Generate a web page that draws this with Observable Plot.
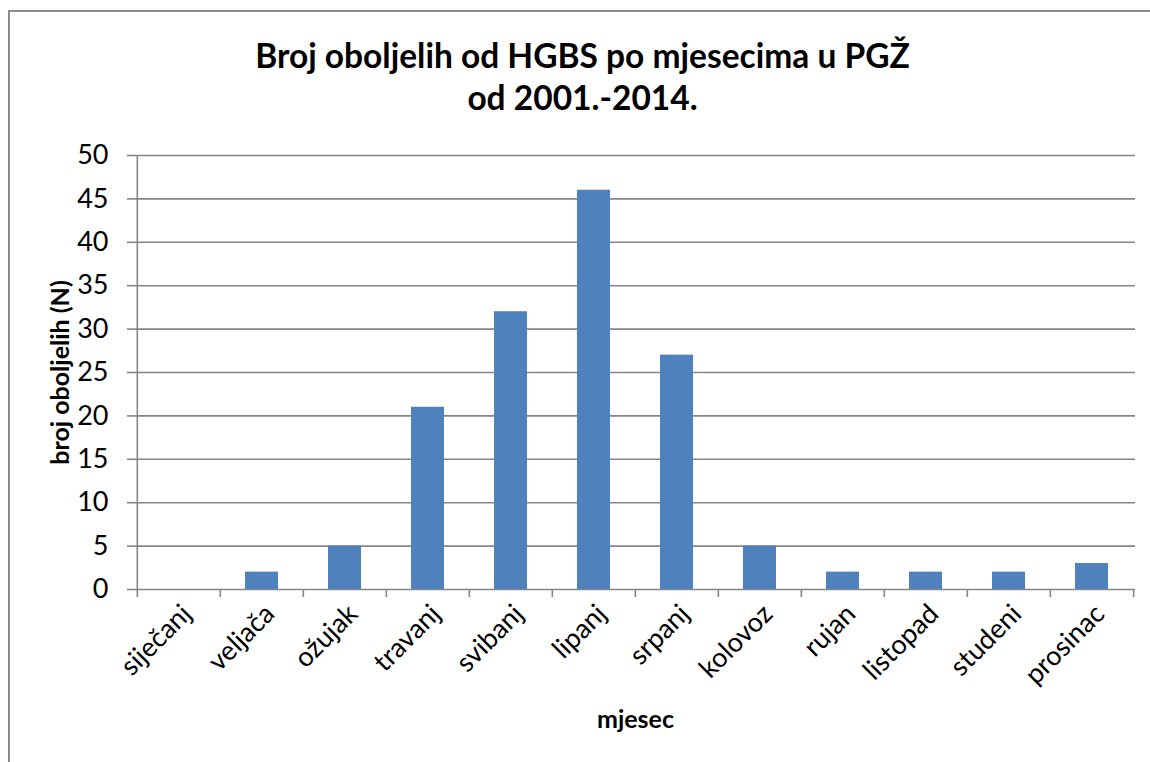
<!DOCTYPE html>
<html>
<head>
<meta charset="utf-8">
<script src="https://cdn.jsdelivr.net/npm/d3@7"></script>
<script src="https://cdn.jsdelivr.net/npm/@observablehq/plot@0.6"></script>
<style>
  html, body { margin: 0; padding: 0; background: #fff; }
  #wrap { position: relative; width: 1150px; height: 762px; overflow: hidden; font-family: Lato, "Open Sans", sans-serif; }
  #border { position: absolute; z-index: 5; left: 8px; top: 10px; width: 1160px; height: 780px; border-left: 2px solid #8c8c8c; border-top: 2px solid #8c8c8c; box-sizing: border-box; pointer-events: none; }
  #title { position: absolute; left: 0; top: 0; width: 1150px; height: 130px; text-align: center; }
  #title div { position: absolute; width: 1165px; left: 0; font-weight: bold; font-size: 33.5px; line-height: 40px; color: #000; white-space: nowrap; text-align: center; }
  #chart { position: absolute; left: 0; top: 130px; }
</style>
</head>
<body>
<div id="wrap">
  <div id="border"></div>
  <div id="title"></div>
  <div id="chart"></div>
</div>
<script>
const titleLines = ["Broj oboljelih od HGBS po mjesecima u PGŽ", "od 2001.-2014."];
const months = ["siječanj", "veljača", "ožujak", "travanj", "svibanj", "lipanj", "srpanj", "kolovoz", "rujan", "listopad", "studeni", "prosinac"];
const counts = [0, 2, 5, 21, 32, 46, 27, 5, 2, 2, 2, 3];
const yTicks = [0, 5, 10, 15, 20, 25, 30, 35, 40, 45, 50];
const xTitle = "mjesec";
const yTitle = "broj oboljelih (N)";

const data = months.map((m, i) => ({month: m, value: counts[i]}));

const titleEl = document.getElementById("title");
titleLines.forEach((t, i) => {
  const d = document.createElement("div");
  d.textContent = t;
  d.style.top = (i === 0 ? 35 : 77) + "px";
  titleEl.appendChild(d);
});

const W = 1150, H = 632, mL = 135, mR = 15, mT = 25, mB = 173;
const step = (W - mL - mR) / months.length;
const grey = "#868686";
const font = "Lato, 'Open Sans', sans-serif";

const chart = Plot.plot({
  width: W, height: H,
  marginLeft: mL, marginRight: mR, marginTop: mT, marginBottom: mB,
  style: {fontFamily: font, fontSize: "27px", color: "#000", background: "transparent"},
  x: {domain: months, paddingInner: 0.6, paddingOuter: 0.3, label: null},
  y: {domain: [0, 50], label: null},
  marks: [
    Plot.ruleY(yTicks, {y: d => d, stroke: grey, strokeWidth: 1.6}),
    Plot.barY(data, {x: "month", y: "value", fill: "#4F81BD"}),
    Plot.ruleX([months[0]], {x: d => d, dx: -step / 2, y1: 0, y2: yTicks[yTicks.length - 1], stroke: grey, strokeWidth: 1.6}),
    Plot.ruleX(months, {x: d => d, dx: -step / 2, y1: 0, y2: 0, insetBottom: -8, stroke: grey, strokeWidth: 1.6}),
    Plot.ruleX([months[months.length - 1]], {x: d => d, dx: step / 2, y1: 0, y2: 0, insetBottom: -8, stroke: grey, strokeWidth: 1.6}),
    Plot.axisY({ticks: yTicks, tickSize: 8, tickPadding: 19, stroke: grey, strokeWidth: 1.6, fontSize: 27, label: null}),
    Plot.axisX({tickSize: 0, tickPadding: 20, dx: 8, tickRotate: -45, fontSize: 27, label: null}),
    Plot.text([xTitle], {text: d => d, frameAnchor: "bottom", dy: 138, fontWeight: "bold", fontSize: 25}),
    Plot.text([yTitle], {text: d => d, frameAnchor: "left", textAnchor: "middle", dx: -75, rotate: -90, fontWeight: "bold", fontSize: 25})
  ]
});
document.getElementById("chart").appendChild(chart);
</script>
</body>
</html>
